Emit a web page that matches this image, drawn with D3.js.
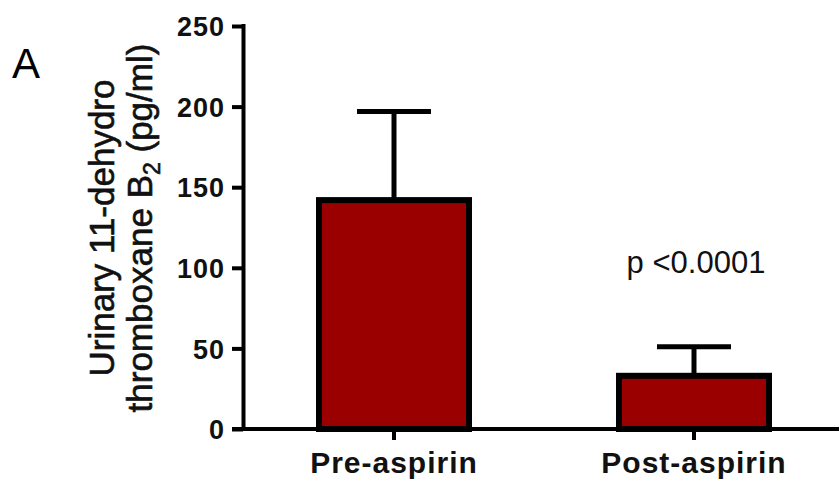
<!DOCTYPE html>
<html>
<head>
<meta charset="utf-8">
<script src="https://cdn.jsdelivr.net/npm/d3@7"></script>
<style>
  html, body { margin: 0; padding: 0; background: #fff; }
  svg { display: block; }
  text { font-family: "Liberation Sans", Arial, Helvetica, sans-serif; }
</style>
</head>
<body>
<svg id="chart" width="839" height="484"></svg>
<script>
// ---- data ----
const categories = ["Pre-aspirin", "Post-aspirin"];
const means = [142, 33];
const errorTops = [197, 51];
const yTicks = [0, 50, 100, 150, 200, 250];
const pLabel = "p <0.0001";
const panelLabel = "A";

// ---- layout ----
const svg = d3.select("#chart");
const W = 839, H = 484;
const x0 = 243, yBottom = 429, yTop = 26;

const y = d3.scaleLinear().domain([0, 250]).range([yBottom, yTop]);
const x = d3.scaleBand().domain(categories).range([244, 844])
  .paddingInner(0.5).paddingOuter(0.25);

// bars
const g = svg.append("g");
categories.forEach((c, i) => {
  const cx = x(c) + x.bandwidth() / 2;
  g.append("line")
    .attr("x1", cx).attr("x2", cx)
    .attr("y1", y(means[i])).attr("y2", y(errorTops[i]))
    .attr("stroke", "#000").attr("stroke-width", 5);
  g.append("line")
    .attr("x1", cx - 37).attr("x2", cx + 37)
    .attr("y1", y(errorTops[i])).attr("y2", y(errorTops[i]))
    .attr("stroke", "#000").attr("stroke-width", 5);
  g.append("rect")
    .attr("x", x(c)).attr("width", x.bandwidth())
    .attr("y", y(means[i])).attr("height", y(0) - y(means[i]))
    .attr("fill", "#9a0000").attr("stroke", "#000").attr("stroke-width", 6);
});

// y axis
const yAxis = svg.append("g")
  .attr("transform", `translate(${x0},0)`)
  .call(d3.axisLeft(y).tickValues(yTicks).tickSize(11).tickSizeOuter(0).tickPadding(7));
yAxis.select(".domain").attr("stroke", "#000").attr("stroke-width", 4)
  .attr("d", `M0.5,${yTop - 2}V${yBottom + 2}`);
yAxis.selectAll(".tick line").attr("stroke", "#000").attr("stroke-width", 4);
yAxis.selectAll(".tick text")
  .attr("font-family", "Liberation Sans, Arial, sans-serif")
  .attr("font-size", 27).attr("font-weight", "bold").attr("fill", "#111")
  .attr("letter-spacing", 1).attr("dy", "0.36em");

// x axis
const xAxis = svg.append("g")
  .attr("transform", `translate(0,${yBottom})`)
  .call(d3.axisBottom(x).tickSize(11).tickSizeOuter(0).tickPadding(12));
xAxis.select(".domain").attr("stroke", "#000").attr("stroke-width", 4)
  .attr("d", `M${x0 - 11},0H${W}`);
xAxis.selectAll(".tick line").attr("stroke", "#000").attr("stroke-width", 4);
xAxis.selectAll(".tick text")
  .attr("font-family", "Liberation Sans, Arial, sans-serif")
  .attr("font-size", 30).attr("font-weight", "bold").attr("fill", "#111")
  .attr("letter-spacing", 1).attr("dy", "0.71em");

// p-value label
svg.append("text")
  .attr("x", x(categories[1]) + x.bandwidth() / 2 + 2).attr("y", 273)
  .attr("text-anchor", "middle")
  .attr("font-size", 31).attr("fill", "#111")
  .text(pLabel);

// panel label
svg.append("text")
  .attr("x", 12).attr("y", 78)
  .attr("font-size", 42).attr("fill", "#000")
  .text(panelLabel);

// y-axis title (two lines)
const yt = svg.append("text")
  .attr("transform", "translate(0,228) rotate(-90)")
  .attr("text-anchor", "middle")
  .attr("font-size", 35).attr("fill", "#111")
  .attr("stroke", "#111").attr("stroke-width", 0.6);
yt.append("tspan").attr("x", 0).attr("y", 114).text("Urinary 11-dehydro");
const l2 = yt.append("tspan").attr("x", 0).attr("y", 152);
l2.append("tspan").text("thromboxane B");
l2.append("tspan").attr("font-size", 23).attr("dy", 8).text("2");
l2.append("tspan").attr("dy", -8).text(" (pg/ml)");
</script>
</body>
</html>
